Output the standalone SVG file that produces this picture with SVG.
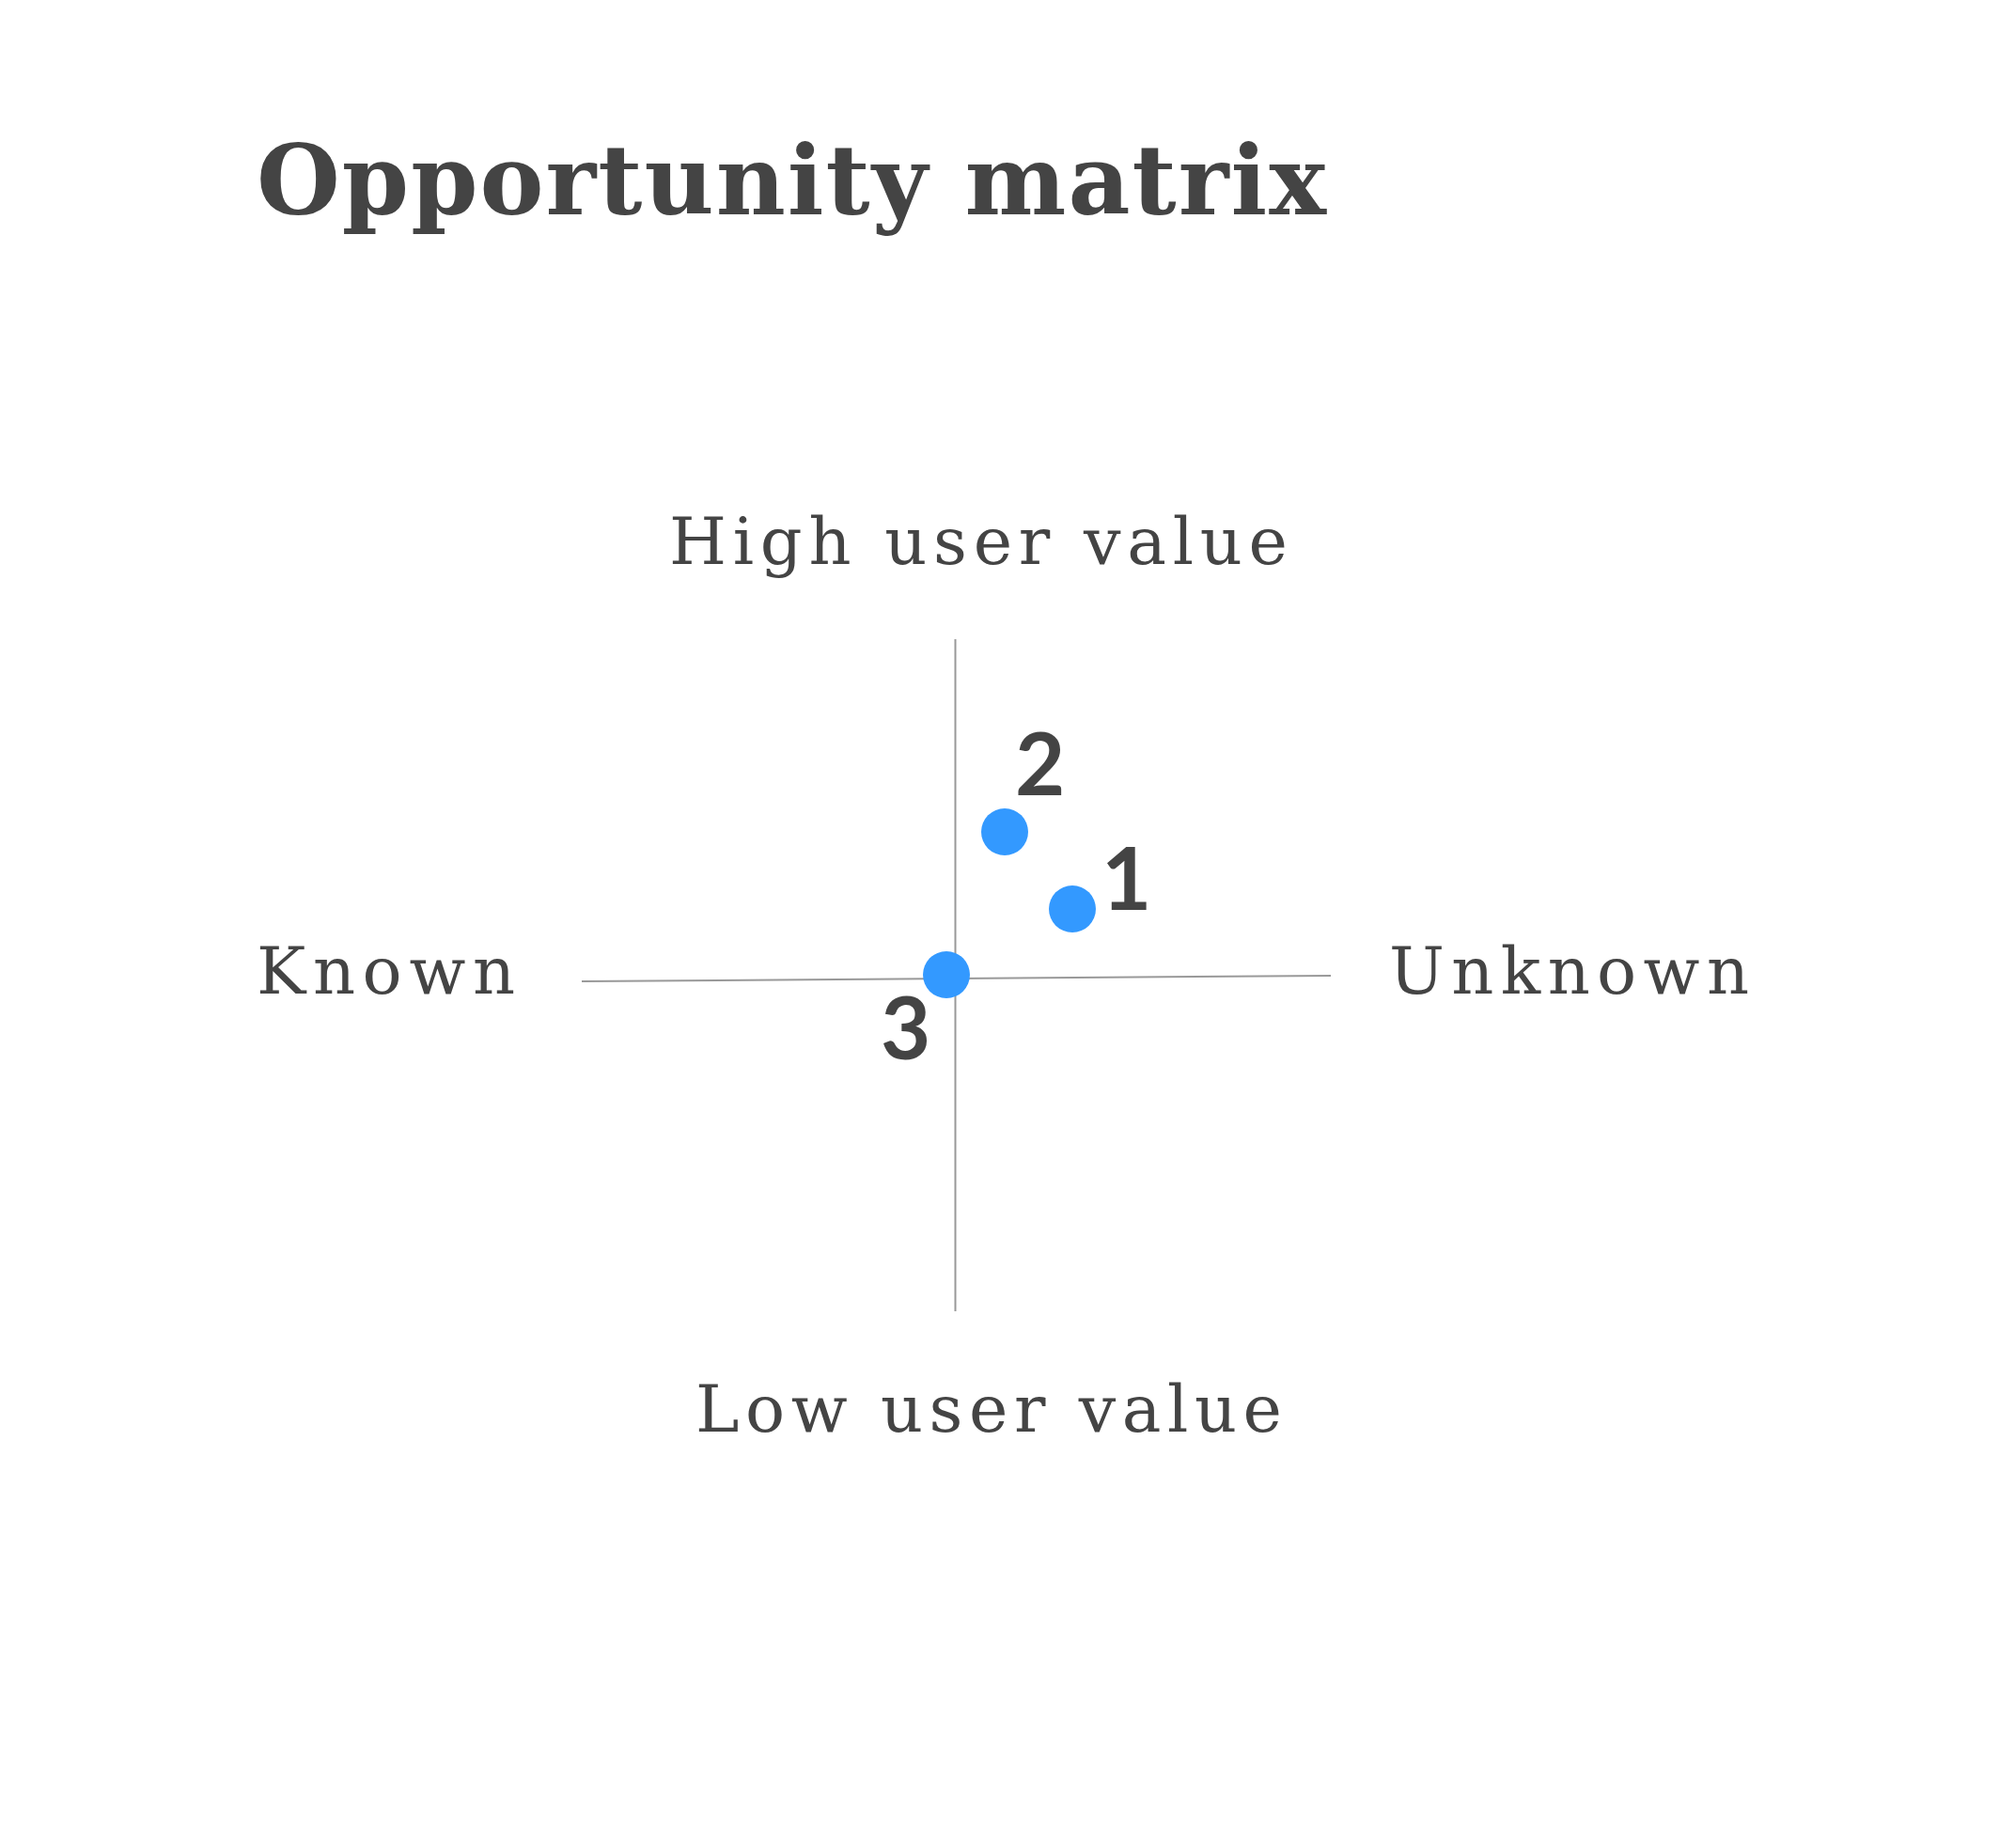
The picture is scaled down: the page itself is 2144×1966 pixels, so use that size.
<svg xmlns="http://www.w3.org/2000/svg" width="2144" height="1966" viewBox="0 0 2144 1966">
<style>
.title{font-family:"DejaVu Serif","Liberation Serif",serif;font-weight:bold;font-size:102px;fill:#444}
.lbl{font-family:"DejaVu Serif","Liberation Serif",serif;font-size:70px;fill:#444}
.num{font-family:Lato,"Liberation Sans",sans-serif;font-weight:bold;font-size:92px;fill:#444}
.axis{stroke:#999;stroke-width:2;fill:none}
.dot{fill:#3399ff}
</style>
<rect width="2144" height="1966" fill="#fff"/>
<text id="title" class="title" x="273" y="228" textLength="1138" lengthAdjust="spacing">Opportunity matrix</text>
<g id="axes">
<line class="axis" x1="1016.5" y1="680" x2="1016.5" y2="1395"/>
<line class="axis" x1="619" y1="1044" x2="1416" y2="1038"/>
</g>
<g id="label-high"><text class="lbl" x="712" y="600" textLength="658" lengthAdjust="spacing">High user value</text></g>
<g id="label-low"><text class="lbl" x="740" y="1523" textLength="624" lengthAdjust="spacing">Low user value</text></g>
<g id="label-known"><text class="lbl" x="273" y="1057" textLength="275" lengthAdjust="spacing">Known</text></g>
<g id="label-unknown"><text class="lbl" x="1478" y="1057" textLength="383" lengthAdjust="spacing">Unknown</text></g>
<g id="point-2"><circle class="dot" cx="1069" cy="885" r="25"/><text class="num" x="1080" y="846">2</text></g>
<g id="point-1"><circle class="dot" cx="1141" cy="967" r="25"/><text class="num" x="1172" y="968">1</text></g>
<g id="point-3"><circle class="dot" cx="1007" cy="1037" r="25"/><text class="num" x="937" y="1127">3</text></g>
</svg>
